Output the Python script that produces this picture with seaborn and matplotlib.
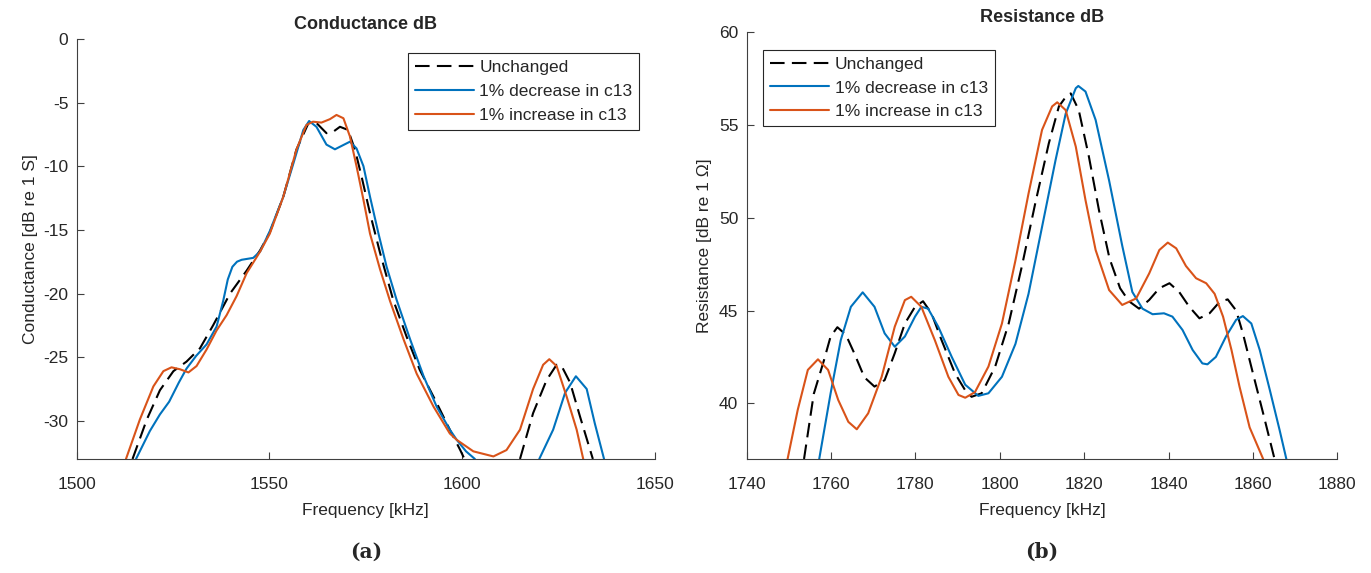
import numpy as np
import pandas as pd
import matplotlib
matplotlib.use("Agg")
import matplotlib.pyplot as plt
from matplotlib.lines import Line2D
import seaborn as sns

# ---------------- data: (a) Conductance dB ----------------
series_names = ["Unchanged", "1% decrease in c13", "1% increase in c13"]

cond_unch_f1 = [1514.5, 1518.2, 1521.6, 1525.1, 1528.5, 1532.0, 1535.4, 1539.8, 1544.1, 1547.6,
                1550.1, 1553.6, 1557.0, 1560.3, 1562.2, 1564.8, 1566.5, 1568.3, 1570.4, 1572.2,
                1573.9, 1576.1, 1578.7, 1582.1, 1585.6, 1589.0, 1593.4, 1596.8, 1599.5, 1600.6]
cond_unch_v1 = [-33.0, -29.9, -27.6, -26.1, -25.35, -24.3, -22.5, -20.0, -18.2, -16.6,
                -15.2, -12.4, -8.7, -6.5, -6.6, -7.4, -7.3, -6.9, -7.15, -8.7,
                -10.8, -13.7, -16.8, -20.5, -23.4, -26.0, -28.6, -30.7, -32.3, -33.0]
cond_unch_f2 = [1615.0, 1618.4, 1621.9, 1624.5, 1625.8, 1628.0, 1630.6, 1633.9]
cond_unch_v2 = [-33.0, -29.4, -26.8, -25.6, -25.7, -27.0, -29.7, -33.0]

cond_dec_f1 = [1515.4, 1519.0, 1521.6, 1524.0, 1526.5, 1528.5, 1531.0, 1533.7, 1536.3, 1538.0,
               1539.2, 1540.4, 1541.6, 1542.8, 1545.8, 1547.6, 1550.1, 1553.6, 1556.2, 1558.8,
               1560.3, 1562.2, 1564.8, 1567.0, 1569.2, 1570.9, 1572.6, 1574.4, 1576.1, 1578.3,
               1580.4, 1583.0, 1586.5, 1590.0, 1593.4, 1596.8, 1598.6, 1601.0, 1603.3]
cond_dec_v1 = [-33.0, -30.8, -29.5, -28.5, -27.0, -25.9, -24.9, -24.0, -22.6, -20.6,
               -18.9, -17.9, -17.5, -17.35, -17.2, -16.7, -15.1, -12.4, -9.8, -7.15,
               -6.45, -6.9, -8.3, -8.67, -8.33, -8.07, -8.6, -10.0, -12.4, -15.3,
               -17.9, -20.5, -23.6, -26.5, -28.9, -30.7, -31.5, -32.4, -33.0]
cond_dec_f2 = [1620.0, 1623.6, 1626.7, 1629.5, 1632.3, 1634.4, 1636.8]
cond_dec_v2 = [-33.0, -30.7, -27.8, -26.5, -27.5, -30.2, -33.0]

cond_inc_f = [1512.8, 1516.4, 1519.9, 1522.5, 1524.6, 1526.8, 1529.0, 1531.1, 1533.7, 1536.3,
              1538.9, 1541.5, 1544.1, 1547.6, 1550.1, 1553.6, 1557.0, 1559.6, 1561.3, 1563.5,
              1565.7, 1567.4, 1569.2, 1570.9, 1572.6, 1574.4, 1576.1, 1578.7, 1581.3, 1584.8,
              1588.2, 1592.6, 1596.8, 1598.6, 1602.9, 1608.1, 1611.5, 1615.0, 1618.4, 1621.0,
              1622.6, 1624.5, 1627.1, 1629.7, 1631.4]
cond_inc_v = [-33.0, -29.9, -27.3, -26.1, -25.8, -25.95, -26.2, -25.7, -24.4, -22.9,
              -21.7, -20.2, -18.4, -16.7, -15.3, -12.4, -8.7, -6.76, -6.5, -6.57,
              -6.3, -5.97, -6.23, -7.67, -10.0, -12.65, -15.3, -18.1, -20.6, -23.6,
              -26.3, -28.9, -31.0, -31.5, -32.4, -32.8, -32.3, -30.7, -27.5, -25.6,
              -25.16, -25.7, -28.1, -30.7, -33.0]

# ---------------- data: (b) Resistance dB ----------------
res_unch_f = [1753.6, 1755.9, 1758.3, 1759.9, 1761.5, 1763.5, 1765.5, 1767.9, 1770.3, 1772.7,
              1775.1, 1777.5, 1779.9, 1781.8, 1783.8, 1786.2, 1789.4, 1791.8, 1793.3, 1795.7,
              1798.9, 1802.1, 1805.2, 1808.4, 1811.6, 1814.0, 1815.6, 1816.8, 1818.7, 1821.1,
              1823.5, 1826.0, 1828.5, 1830.6, 1833.0, 1835.4, 1837.8, 1840.2, 1842.5, 1844.9,
              1847.3, 1849.7, 1852.1, 1854.0, 1856.0, 1857.6, 1860.0, 1862.4, 1865.1]
res_unch_v = [37.0, 40.5, 42.3, 43.6, 44.1, 43.7, 42.7, 41.4, 40.9, 41.25,
              42.7, 44.3, 45.2, 45.5, 44.85, 43.4, 41.6, 40.7, 40.35, 40.54,
              41.98, 44.3, 47.36, 50.78, 54.0, 56.0, 56.5, 56.7, 55.8, 53.3,
              50.4, 47.8, 46.2, 45.5, 45.1, 45.57, 46.2, 46.47, 46.0, 45.2,
              44.58, 44.85, 45.47, 45.6, 45.0, 43.77, 41.6, 39.46, 37.0]

res_dec_f = [1757.2, 1759.9, 1762.3, 1764.7, 1767.5, 1770.3, 1772.7, 1775.1, 1777.5, 1779.9,
             1781.4, 1783.0, 1785.4, 1788.6, 1791.8, 1794.9, 1797.3, 1800.5, 1803.7, 1806.8,
             1810.0, 1813.2, 1815.6, 1818.0, 1818.6, 1820.3, 1822.7, 1825.9, 1829.0, 1831.4,
             1833.8, 1836.2, 1838.9, 1840.9, 1843.3, 1845.7, 1848.0, 1849.2, 1851.2, 1853.6,
             1856.0, 1857.6, 1859.6, 1861.6, 1864.0, 1866.3, 1867.9]
res_dec_v = [37.0, 40.54, 43.4, 45.2, 45.98, 45.2, 43.77, 43.05, 43.6, 44.67,
             45.2, 45.1, 44.13, 42.5, 41.0, 40.4, 40.54, 41.43, 43.2, 45.9,
             49.5, 53.1, 55.6, 56.98, 57.1, 56.8, 55.27, 52.0, 48.5, 46.0,
             45.1, 44.8, 44.85, 44.67, 43.95, 42.87, 42.15, 42.1, 42.5, 43.6,
             44.5, 44.7, 44.3, 42.87, 40.7, 38.56, 37.0]

res_inc_f = [1749.7, 1752.1, 1754.5, 1756.9, 1759.3, 1761.7, 1764.1, 1766.1, 1768.8, 1772.0,
             1775.1, 1777.5, 1779.0, 1781.4, 1784.6, 1787.8, 1790.2, 1791.8, 1794.1, 1797.3,
             1800.5, 1803.7, 1806.8, 1810.0, 1812.4, 1813.6, 1815.6, 1818.0, 1820.3, 1822.7,
             1825.9, 1829.0, 1832.3, 1835.4, 1837.8, 1839.8, 1841.8, 1844.1, 1846.5, 1848.9,
             1850.9, 1852.9, 1854.9, 1856.8, 1859.2, 1862.4]
res_inc_v = [37.0, 39.64, 41.8, 42.37, 41.8, 40.18, 39.0, 38.6, 39.46, 41.43,
             44.13, 45.56, 45.74, 45.2, 43.4, 41.43, 40.45, 40.3, 40.6, 41.98,
             44.3, 47.7, 51.3, 54.73, 56.0, 56.22, 55.8, 53.83, 50.95, 48.26,
             46.1, 45.3, 45.65, 47.0, 48.26, 48.66, 48.35, 47.4, 46.74, 46.47,
             45.9, 44.67, 42.87, 40.9, 38.7, 37.0]

cond_xticks = [1500, 1550, 1600, 1650]
cond_yticks = [0, -5, -10, -15, -20, -25, -30]
res_xticks = [1740, 1760, 1780, 1800, 1820, 1840, 1860, 1880]
res_yticks = [40, 45, 50, 55, 60]


def frame(parts):
    rows = []
    for name, seg, f, v in parts:
        for fi, vi in zip(f, v):
            rows.append({"freq": fi, "val": vi, "series": name, "seg": seg})
    return pd.DataFrame(rows)


df_cond = frame([
    (series_names[0], 1, cond_unch_f1, cond_unch_v1),
    (series_names[0], 2, cond_unch_f2, cond_unch_v2),
    (series_names[1], 1, cond_dec_f1, cond_dec_v1),
    (series_names[1], 2, cond_dec_f2, cond_dec_v2),
    (series_names[2], 1, cond_inc_f, cond_inc_v),
])
df_res = frame([
    (series_names[0], 1, res_unch_f, res_unch_v),
    (series_names[1], 1, res_dec_f, res_dec_v),
    (series_names[2], 1, res_inc_f, res_inc_v),
])

# ---------------- styling ----------------
sns.set_theme(style="ticks")
plt.rcParams["font.family"] = ["Liberation Sans", "DejaVu Sans"]
plt.rcParams.update({
    "font.size": 12.5,
    "axes.unicode_minus": False,
    "xtick.direction": "in",
    "ytick.direction": "in",
    "text.color": "#262626",
    "axes.labelcolor": "#262626",
    "xtick.color": "#404040",
    "ytick.color": "#404040",
    "xtick.labelcolor": "#262626",
    "ytick.labelcolor": "#262626",
    "axes.edgecolor": "#404040",
    "axes.linewidth": 0.8,
    "lines.solid_joinstyle": "round",
    "lines.solid_capstyle": "round",
})

colors = {series_names[0]: "black", series_names[1]: "#0072BD", series_names[2]: "#D95319"}
dash_map = {series_names[0]: (7, 3.5), series_names[1]: "", series_names[2]: ""}
LW = 1.5

fig = plt.figure(figsize=(13.71, 5.73), dpi=100)
ax1 = fig.add_axes([0.0559, 0.199, 0.4218, 0.733])
ax2 = fig.add_axes([0.5446, 0.199, 0.4309, 0.7449])


def draw(ax, df):
    sns.lineplot(data=df, x="freq", y="val", hue="series", style="series",
                 units="seg", estimator=None, sort=False, palette=colors,
                 dashes=dash_map, hue_order=series_names, style_order=series_names,
                 linewidth=LW, legend=False, ax=ax)


draw(ax1, df_cond)
draw(ax2, df_res)

handles = [Line2D([], [], color=colors[series_names[0]], lw=LW, dashes=(7, 3.5)),
           Line2D([], [], color=colors[series_names[1]], lw=LW, ls="-"),
           Line2D([], [], color=colors[series_names[2]], lw=LW, ls="-")]

for ax in (ax1, ax2):
    for s in ("top", "right"):
        ax.spines[s].set_visible(False)
    ax.tick_params(axis="both", length=5, width=0.8, labelsize=12.5)
    ax.tick_params(axis="x", pad=13)
    ax.tick_params(axis="y", pad=6)

ax1.set_xlim(1500, 1650)
ax1.set_ylim(-33, 0)
ax1.set_xticks(cond_xticks)
ax1.set_yticks(cond_yticks)
ax1.set_xlabel("Frequency [kHz]", fontsize=12.5, labelpad=8)
ax1.set_ylabel("Conductance [dB re 1 S]", fontsize=12.5, labelpad=4)
ax1.set_title("Conductance dB", fontsize=13, fontweight="bold", pad=7)

ax2.set_xlim(1740, 1880)
ax2.set_ylim(37, 60)
ax2.set_xticks(res_xticks)
ax2.set_yticks(res_yticks)
ax2.set_xlabel("Frequency [kHz]", fontsize=12.5, labelpad=8)
ax2.set_ylabel("Resistance [dB re 1 Ω]", fontsize=12.5, labelpad=5)
ax2.set_title("Resistance dB", fontsize=13, fontweight="bold", pad=7)

leg_kw = dict(fontsize=12.5, frameon=True, fancybox=False, framealpha=1, edgecolor="#262626",
              handlelength=3.4, handletextpad=0.32, borderpad=0.4, labelspacing=0.5,
              borderaxespad=0)
l1 = ax1.legend(handles, series_names, loc="upper right", bbox_to_anchor=(0.973, 0.967), **leg_kw)
l2 = ax2.legend(handles, series_names, loc="upper left", bbox_to_anchor=(0.028, 0.959), **leg_kw)
for l in (l1, l2):
    l.get_frame().set_linewidth(0.8)

fig.text(0.2669, 0.037, "(a)", ha="center", va="center", fontsize=14.5, fontweight="bold",
         family="DejaVu Serif")
fig.text(0.7600, 0.037, "(b)", ha="center", va="center", fontsize=14.5, fontweight="bold",
         family="DejaVu Serif")

fig.savefig("out.png", dpi=100)
